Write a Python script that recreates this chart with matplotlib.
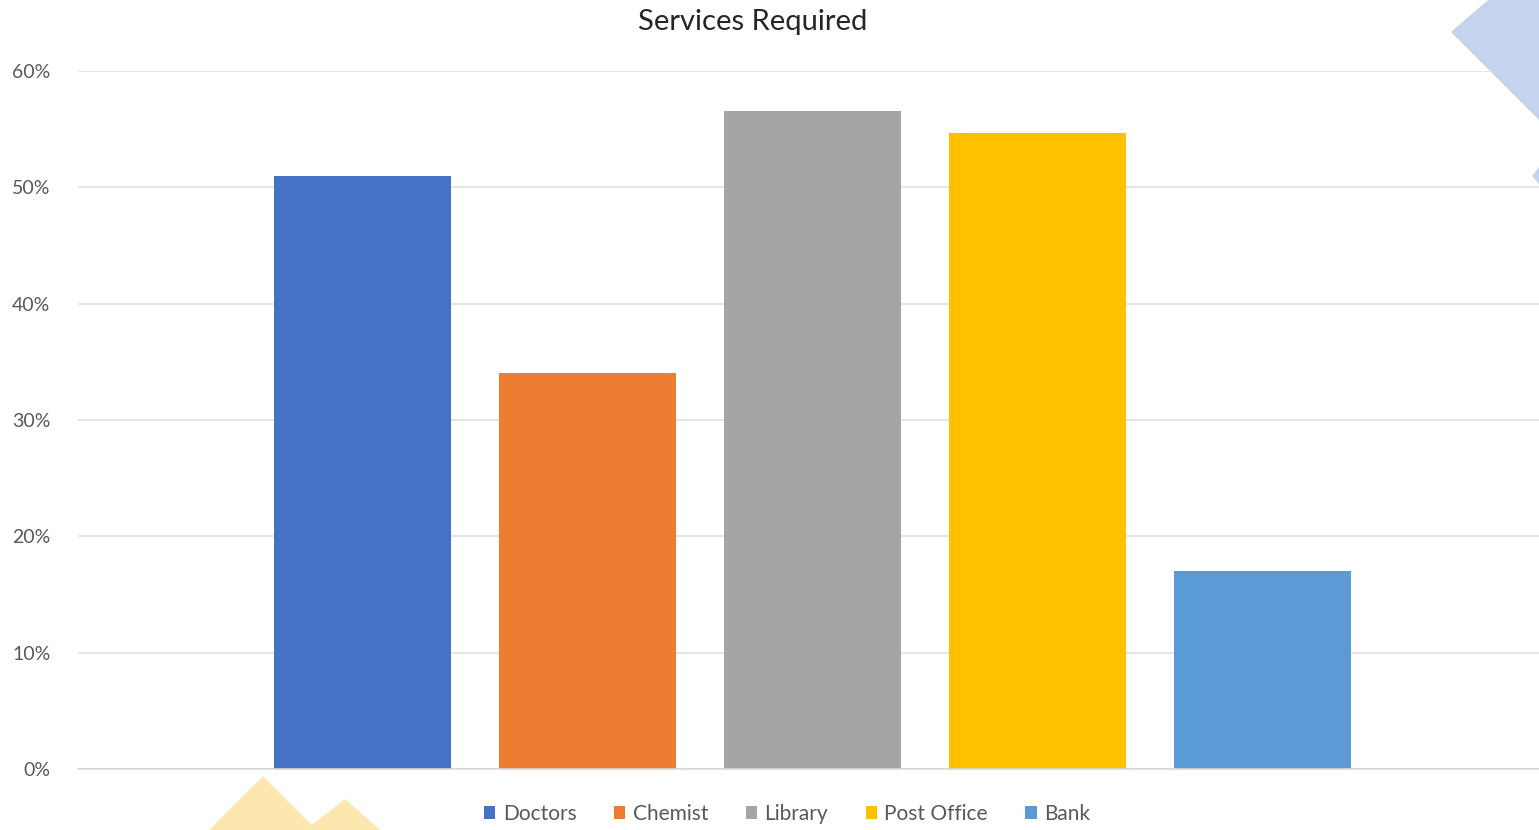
import matplotlib.pyplot as plt
from matplotlib.patches import Polygon
from matplotlib.ticker import PercentFormatter

# data
services = ["Doctors", "Chemist", "Library", "Post Office", "Bank"]
shares = [0.51, 0.34, 0.566, 0.547, 0.17]
colors = ["#4472C4", "#ED7D31", "#A5A5A5", "#FFC000", "#5B9BD5"]
y_ticks = [0, 0.1, 0.2, 0.3, 0.4, 0.5, 0.6]

plt.rcParams['font.family'] = ['Lato', 'DejaVu Sans']

fig = plt.figure(figsize=(15.39, 8.3), dpi=100)
ax = fig.add_axes([78 / 1539, 1 - 769 / 830, 1469 / 1539, 698 / 830])

for i, (name, val, c) in enumerate(zip(services, shares, colors)):
    ax.bar(i, val, width=0.787, color=c, label=name, zorder=2)

ax.set_xlim(-1.264, 5.264)
ax.set_ylim(0, 0.6)
ax.set_yticks(y_ticks)
ax.yaxis.set_major_formatter(PercentFormatter(1.0, decimals=0))
ax.grid(axis='y', color='#E0E0E0', linewidth=1.2, zorder=0)
ax.set_xticks([])
for s in ['top', 'right', 'left']:
    ax.spines[s].set_visible(False)
ax.spines['bottom'].set_color('#D9D9D9')
ax.spines['bottom'].set_linewidth(1.2)
ax.tick_params(axis='y', length=0, labelsize=14, labelcolor='#595959', pad=20)

fig.text(753 / 1539, 1 - 22 / 830, "Services Required", ha='center', va='center',
         fontsize=21, color='#262626')

fig.legend(loc='center', bbox_to_anchor=(787 / 1539, 1 - 814 / 830), ncol=5,
           frameon=False, fontsize=15, labelcolor='#595959',
           handlelength=0.55, handleheight=0.55, handletextpad=0.35, columnspacing=1.8)

# decorative background shapes
W, H = 1539, 830
def px(pts):
    return [(x / W, 1 - y / H) for x, y in pts]

fig.add_artist(Polygon(px([(1452, 32), (1495, -5), (1545, -5), (1545, 125)]),
                       closed=True, transform=fig.transFigure, color='#C5D3EC', zorder=5))
fig.add_artist(Polygon(px([(1545, 160), (1533, 176), (1545, 190)]),
                       closed=True, transform=fig.transFigure, color='#C5D3EC', zorder=5))
fig.add_artist(Polygon(px([(205, 835), (263, 777), (321, 835)]),
                       closed=True, transform=fig.transFigure, color='#FCE8AE', zorder=1))
fig.add_artist(Polygon(px([(300, 835), (345, 800), (385, 835)]),
                       closed=True, transform=fig.transFigure, color='#FCE8AE', zorder=1))

fig.savefig("out.png", dpi=100)
